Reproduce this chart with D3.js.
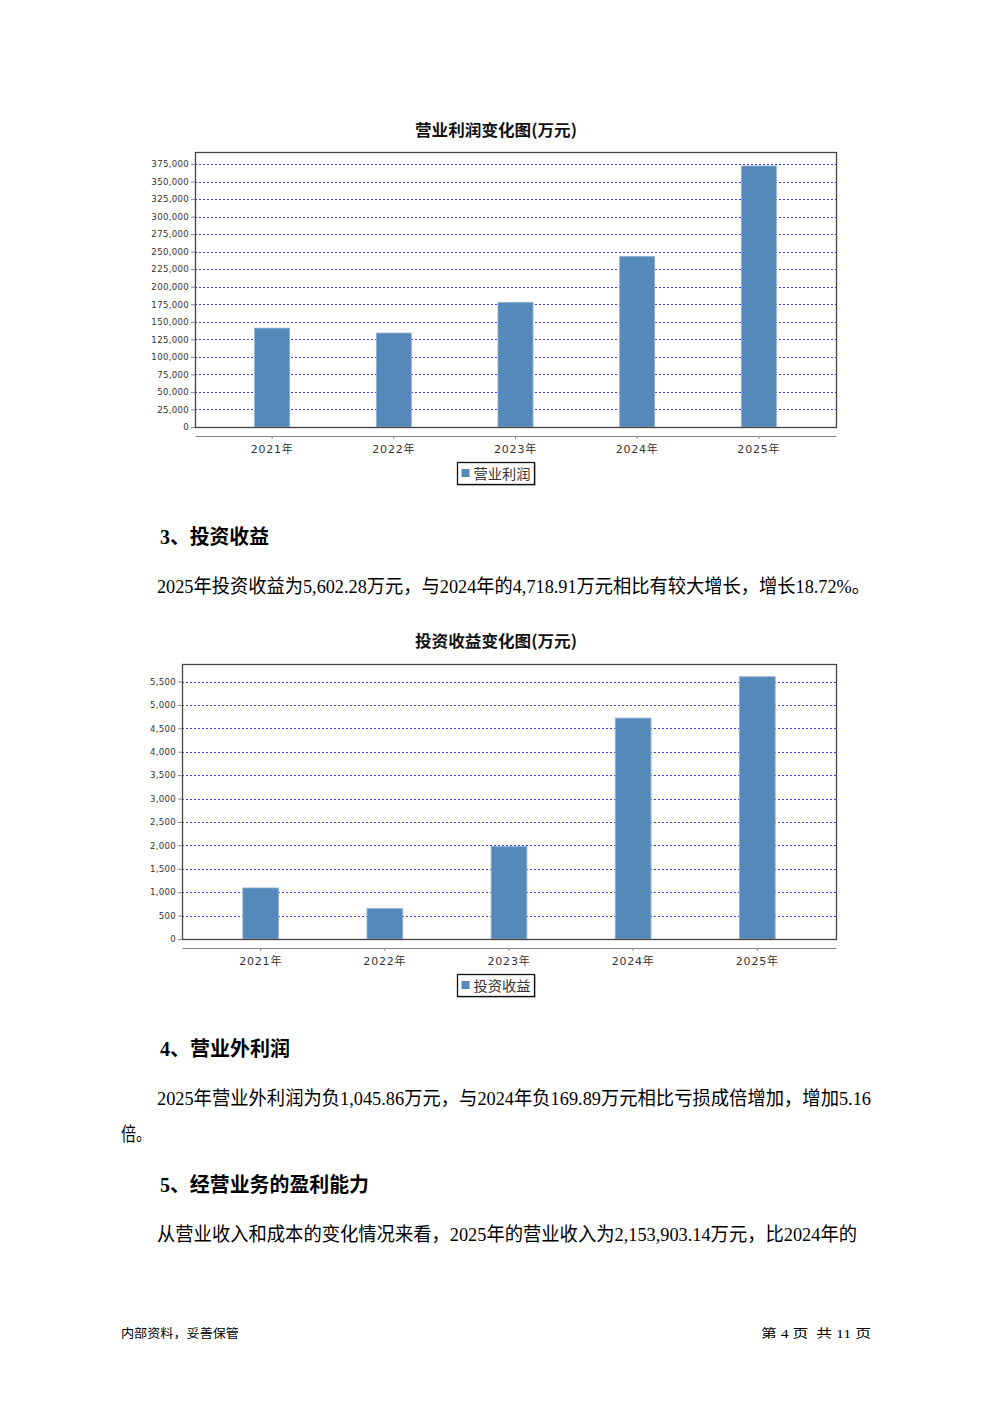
<!DOCTYPE html>
<html><head><meta charset="utf-8">
<script src="https://cdn.jsdelivr.net/npm/d3@7"></script>
<style>html,body{margin:0;padding:0;background:#fff} svg{display:block} text{white-space:pre}</style>
</head><body>
<svg id="page" width="992" height="1403"></svg>
<script>
// ---------- data ----------
const categories = ["2021年","2022年","2023年","2024年","2025年"];
const operatingProfit = [141000, 134000, 177800, 243400, 372200];
const operatingProfitTicks = [0,25000,50000,75000,100000,125000,150000,175000,200000,225000,250000,275000,300000,325000,350000,375000];
const investmentIncome = [1090, 650, 1974, 4718.91, 5602.28];
const investmentIncomeTicks = [0,500,1000,1500,2000,2500,3000,3500,4000,4500,5000,5500];
const chartTitles = ["营业利润变化图(万元)", "投资收益变化图(万元)"];
const seriesNames = ["营业利润", "投资收益"];

// ---------- page ----------
const svg = d3.select("#page");
svg.append("rect").attr("width",992).attr("height",1403).attr("fill","#fff");

const BODY = '"Liberation Serif","Noto Sans CJK SC",serif';
const SANS = '"DejaVu Sans","Noto Sans CJK SC",sans-serif';
const CJK = '"Noto Sans CJK SC",sans-serif';

function addText(str, x, y, size, opts = {}) {
  const t = svg.append("text")
    .attr("x", x).attr("y", y)
    .attr("font-size", size)
    .attr("font-family", opts.family || BODY)
    .attr("font-weight", opts.weight || "normal")
    .attr("fill", opts.fill || "#000")
    .attr("xml:space", "preserve")
    .text(str);
  if (opts.anchor) t.attr("text-anchor", opts.anchor);
  if (opts.len) t.attr("textLength", opts.len).attr("lengthAdjust", "spacingAndGlyphs");
  return t;
}

function drawChart(o) {
  const g = svg.append("g");
  const x = d3.scaleBand().domain(categories)
    .range([o.left, o.right]).paddingInner(0.712).paddingOuter(0.49);
  const y = d3.scaleLinear().domain([0, d3.max(o.ticks)]).range([o.zeroY, o.topTickY]);

  // title
  addText(o.title, 496, o.titleY, 16, {family: CJK, weight: "bold", anchor: "middle", len: 162, fill: "#111"});

  // gridlines
  g.append("g").selectAll("line").data(o.ticks.filter(d => d > 0)).join("line")
    .attr("x1", o.left).attr("x2", o.right)
    .attr("y1", d => Math.round(y(d)) + 0.5).attr("y2", d => Math.round(y(d)) + 0.5)
    .attr("stroke", "#3b3bff").attr("stroke-width", 1)
    .attr("stroke-dasharray", "2,2");

  // bars
  g.append("g").selectAll("rect").data(o.values).join("rect")
    .attr("x", (d, i) => x(categories[i]))
    .attr("width", x.bandwidth())
    .attr("y", d => y(d))
    .attr("height", d => y(0) - y(d))
    .attr("fill", "#5589ba")
    .attr("stroke", "#93b2d4").attr("stroke-width", 0.8);

  // plot frame
  g.append("rect")
    .attr("x", o.left + 0.5).attr("y", o.frameTop + 0.5)
    .attr("width", o.right - o.left).attr("height", o.zeroY - o.frameTop)
    .attr("fill", "none").attr("stroke", "#444").attr("stroke-width", 1.3);

  // y axis
  const ya = g.append("g").attr("transform", `translate(${o.left},0)`)
    .call(d3.axisLeft(y).tickValues(o.ticks).tickFormat(d3.format(",")).tickSize(4).tickPadding(2));
  ya.select(".domain").remove();
  ya.selectAll(".tick line").attr("stroke", "#888");
  ya.selectAll("text").attr("font-family", SANS).attr("font-size", 8.6)
    .attr("fill", "#333").attr("letter-spacing", 0.3);

  // x axis
  const xa = g.append("g").attr("transform", `translate(0,${o.zeroY + 9})`)
    .call(d3.axisBottom(x).tickSize(3).tickPadding(6).tickSizeOuter(0));
  xa.select(".domain").attr("stroke", "#888").attr("stroke-width", 1.2);
  xa.selectAll(".tick line").attr("stroke", "#888");
  xa.selectAll("text").attr("font-family", SANS).attr("font-size", 11)
    .attr("fill", "#333").attr("letter-spacing", 0.8);

  // legend
  const lg = g.append("g").attr("transform", `translate(${o.legendX},${o.legendY})`);
  lg.append("rect").attr("x", 1.5).attr("y", 1.5).attr("width", 77).attr("height", 22)
    .attr("fill", "none").attr("stroke", "#ccc").attr("stroke-width", 1);
  lg.append("rect").attr("x", 0.5).attr("y", 0.5).attr("width", 77).attr("height", 22)
    .attr("fill", "#fff").attr("stroke", "#111").attr("stroke-width", 1.3);
  lg.append("rect").attr("x", 4.5).attr("y", 7).attr("width", 8).attr("height", 8).attr("fill", "#5589ba");
  lg.append("text").attr("x", 16.5).attr("y", 16.5)
    .attr("font-family", CJK).attr("font-size", 13.5).attr("fill", "#333")
    .attr("textLength", 57).attr("lengthAdjust", "spacingAndGlyphs")
    .text(o.series);
}

drawChart({
  title: chartTitles[0], series: seriesNames[0], values: operatingProfit, ticks: operatingProfitTicks,
  left: 195, right: 836, frameTop: 152, zeroY: 427, topTickY: 164, titleY: 136,
  legendX: 457, legendY: 462
});

drawChart({
  title: chartTitles[1], series: seriesNames[1], values: investmentIncome, ticks: investmentIncomeTicks,
  left: 182, right: 836, frameTop: 664, zeroY: 939, topTickY: 681.5, titleY: 647,
  legendX: 457, legendY: 974
});

// ---------- body text ----------
addText("3、投资收益", 160, 544, 20, {weight: "bold", len: 109});
addText("2025年投资收益为5,602.28万元，与2024年的4,718.91万元相比有较大增长，增长18.72%。", 157, 593, 19.5, {len: 713});

addText("4、营业外利润", 160, 1056, 20, {weight: "bold", len: 130});
addText("2025年营业外利润为负1,045.86万元，与2024年负169.89万元相比亏损成倍增加，增加5.16", 157, 1105, 19.5, {len: 714});
addText("倍。", 121, 1141, 19.5, {len: 30});

addText("5、经营业务的盈利能力", 160, 1192, 20, {weight: "bold", len: 209});
addText("从营业收入和成本的变化情况来看，2025年的营业收入为2,153,903.14万元，比2024年的", 157, 1241, 19.5, {len: 700});

// ---------- footer ----------
addText("内部资料，妥善保管", 121, 1338, 12.5, {len: 118});
addText("第 4 页  共 11 页", 761, 1338, 12.5, {len: 110});
</script>
</body></html>
